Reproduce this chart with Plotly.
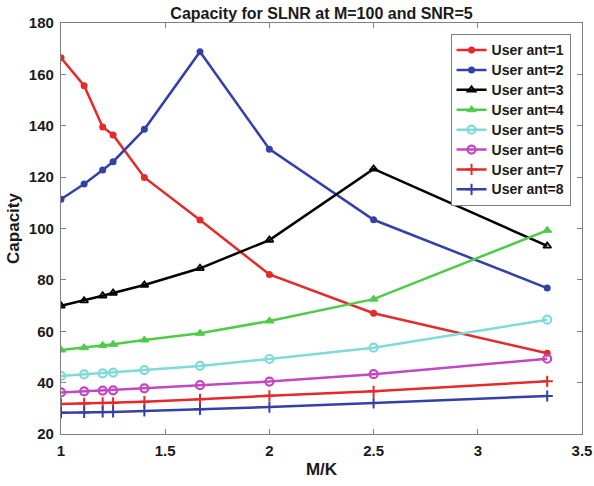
import plotly.graph_objects as go

x_vals = [1.0, 1.111, 1.2, 1.25, 1.4, 1.667, 2.0, 2.5, 3.333]

ant1 = [166.5, 155.6, 139.5, 136.4, 119.9, 103.3, 82.1, 67.0, 51.4]
ant2 = [111.4, 117.3, 122.8, 126.0, 138.6, 168.8, 130.9, 103.4, 76.8]
ant3 = [69.9, 71.9, 73.8, 74.9, 78.0, 84.5, 95.5, 123.2, 93.2]
ant4 = [52.7, 53.6, 54.5, 54.9, 56.6, 59.2, 64.0, 72.5, 99.3]
ant5 = [42.6, 43.2, 43.6, 43.9, 44.9, 46.5, 49.2, 53.6, 64.5]
ant6 = [36.2, 36.6, 36.9, 37.0, 37.8, 39.0, 40.4, 43.3, 49.3]
ant7 = [31.7, 31.9, 32.1, 32.1, 32.6, 33.5, 34.9, 36.6, 40.5]
ant8 = [28.3, 28.4, 28.6, 28.6, 29.0, 29.6, 30.5, 32.1, 34.8]

names = ["User ant=1", "User ant=2", "User ant=3", "User ant=4",
         "User ant=5", "User ant=6", "User ant=7", "User ant=8"]
series = [ant1, ant2, ant3, ant4, ant5, ant6, ant7, ant8]
colors = ["#e42a2a", "#3340a8", "#000000", "#4fcb4a",
          "#7fdad8", "#c247c2", "#e42a2a", "#3340a8"]
symbols = ["circle", "circle", "triangle-up-open", "triangle-up",
           "circle-open", "circle-open", "cross-thin", "cross-thin"]
sizes = [7, 7, 7, 8, 8, 8, 8, 8]
mlw = [0, 0, 1.8, 1, 2.2, 2.2, 2, 2]

FONT = "Liberation Sans, Arial, sans-serif"

fig = go.Figure()
for name, ys, c, s, sz, lw in zip(names, series, colors, symbols, sizes, mlw):
    fig.add_trace(go.Scatter(
        x=x_vals, y=ys, name='<span style="font-size:14px">' + name + '</span>',
        mode="lines+markers",
        line=dict(color=c, width=2.5),
        marker=dict(symbol=s, size=sz, color=c, line=dict(color=c, width=lw)),
    ))

axis_common = dict(
    showline=True, linecolor="#808080", linewidth=1.2, mirror="ticks",
    ticks="inside", ticklen=5, tickcolor="#808080", showgrid=False,
    zeroline=False, automargin=False,
    tickfont=dict(family=FONT, size=15, color="#1a1a1a", weight="bold"),
)

fig.update_layout(
    width=594, height=486,
    margin=dict(l=61, r=12, t=23, b=52),
    paper_bgcolor="white", plot_bgcolor="white",
    title=dict(text="Capacity for SLNR at M=100 and SNR=5",
               x=0.5, xref="paper", y=1 - 13 / 486, yref="container",
               yanchor="middle",
               font=dict(family=FONT, size=16, color="#1a1a1a", weight="bold")),
    xaxis=dict(range=[1, 3.5], tickvals=[1, 1.5, 2, 2.5, 3, 3.5],
               ticktext=["1", "1.5", "2", "2.5", "3", "3.5"],
               ticklabelstandoff=3,
               title=dict(text="M/K", standoff=5,
                          font=dict(family=FONT, size=17, color="#1a1a1a", weight="bold")),
               **axis_common),
    yaxis=dict(range=[20, 180], tickvals=list(range(20, 181, 20)),
               ticklabelstandoff=3,
               title=dict(text="Capacity", standoff=4,
                          font=dict(family=FONT, size=17, color="#1a1a1a", weight="bold")),
               **axis_common),
    legend=dict(x=0.978, y=0.973, xanchor="right", yanchor="top",
                bgcolor="white", bordercolor="#808080", borderwidth=1,
                font=dict(family=FONT, size=13, color="#1a1a1a", weight="bold"),
                tracegroupgap=0, itemwidth=30),
    showlegend=True,
)

fig.write_html("out.html",
               config={"displayModeBar": False},
               post_script="document.body.style.margin='0';document.body.style.overflow='hidden';")
